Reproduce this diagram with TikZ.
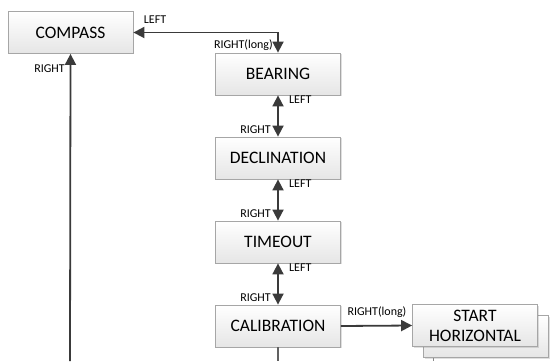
\documentclass[tikz,border=0pt]{standalone}
\usepackage{fontspec}
\setmainfont{Carlito}
\usetikzlibrary{arrows.meta,shadows}
\definecolor{linec}{HTML}{3A3A3A}
\definecolor{boxborder}{HTML}{A6A6A6}
\tikzset{
  statebox/.style={draw=boxborder, line width=0.8pt, top color=white, bottom color=black!10,
    minimum width=125pt, minimum height=42pt, inner sep=0pt, align=center,
    font=\fontsize{17.5}{20}\selectfont, text=black,
    drop shadow={shadow xshift=1pt, shadow yshift=-1pt, opacity=0.25}},
  tip/.style={Triangle[length=11pt,width=11pt]},
  conn/.style={draw=linec, line width=1.8pt, -{Triangle[length=11pt,width=11pt]}},
  biconn/.style={draw=linec, line width=1.8pt, {Triangle[length=11pt,width=11pt]}-{Triangle[length=11pt,width=11pt]}},
  lbl/.style={font=\fontsize{12}{14}\selectfont, inner sep=1pt, text=black}
}
\begin{document}
\begin{tikzpicture}[x=1pt,y=-1pt]
\useasboundingbox (0,0) rectangle (556,361);
\node[statebox] (compass) at (70.5,32.5) {COMPASS};
\node[statebox] (bearing) at (278,74) {BEARING};
\node[statebox] (decl) at (278,158) {DECLINATION};
\node[statebox] (timeout) at (278,242) {TIMEOUT};
\node[statebox] (calib) at (278,326) {CALIBRATION};
\node[statebox] (sh2) at (486,336.5) {};
\node[statebox] (start) at (475,325.5) {START\\HORIZONTAL};
\coordinate (cbot) at (70,361);
\coordinate (kbot) at (278,361);
\coordinate (sbot) at (433,361);
\draw[draw=linec!80, line width=1.8pt] (calib.south) -- (kbot);
\draw[draw=linec!60, line width=1pt] (sh2.south -| sbot) -- (sbot);
\draw[conn] (cbot) -- (compass.south);
\draw[biconn] (compass.east) -| (bearing.north);
\draw[biconn] (bearing.south) -- (decl.north);
\draw[biconn] (decl.south) -- (timeout.north);
\draw[biconn] (timeout.south) -- (calib.north);
\draw[conn] (calib.east) -- (start.west);
\node[lbl, anchor=east] at (66,69) {RIGHT};
\node[lbl] at (155,20) {LEFT};
\node[lbl, anchor=east] at (274,45) {RIGHT(long)};
\foreach \y in {100,184,268}{
  \node[lbl, anchor=west] at (288,\y) {LEFT};
}
\foreach \y in {130,214,298}{
  \node[lbl, anchor=east] at (272,\y) {RIGHT};
}
\node[lbl] at (377,312) {RIGHT(long)};
\end{tikzpicture}
\end{document}
